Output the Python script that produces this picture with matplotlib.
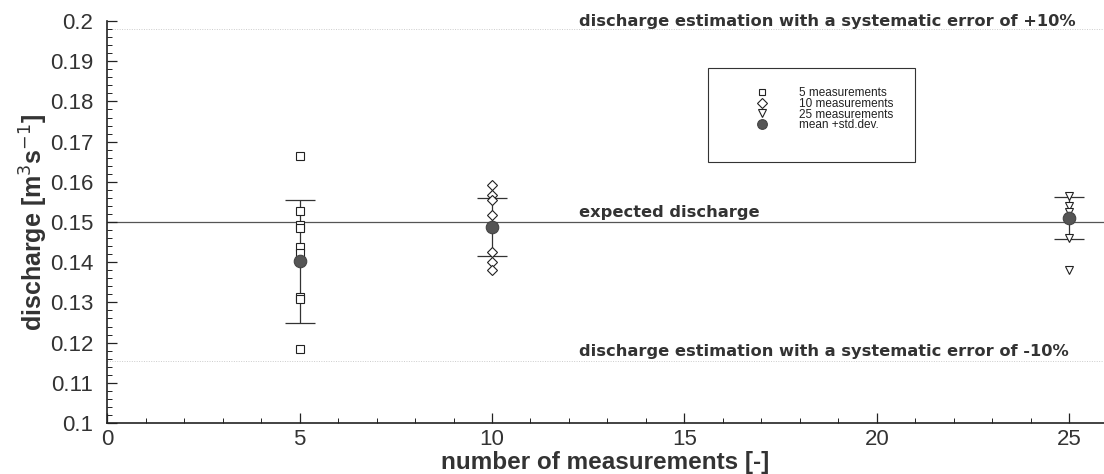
import matplotlib
matplotlib.use("Agg")
import matplotlib.pyplot as plt
from matplotlib.ticker import MultipleLocator
from matplotlib.patches import Rectangle

plt.rcParams['font.family'] = ['Liberation Sans', 'DejaVu Sans']

# data
x5 = 5
vals5 = [0.1664, 0.1527, 0.1493, 0.1485, 0.1438, 0.1423, 0.1313, 0.1308, 0.1184]
x10 = 10
vals10 = [0.1592, 0.1566, 0.1556, 0.1518, 0.1425, 0.1400, 0.1380]
x25 = 25
vals25 = [0.1565, 0.1540, 0.1525, 0.1510, 0.1460, 0.1380]
mean_x = [5, 10, 25]
mean_vals = [0.1402, 0.1488, 0.1510]
std_vals = [0.0153, 0.0072, 0.0053]
expected = 0.15
upper_err = 0.198
lower_err = 0.1155
ytick_vals = [0.1, 0.11, 0.12, 0.13, 0.14, 0.15, 0.16, 0.17, 0.18, 0.19, 0.2]
ytick_labels = ['0.1', '0.11', '0.12', '0.13', '0.14', '0.15', '0.16',
                '0.17', '0.18', '0.19', '0.2']

fig = plt.figure(figsize=(11.04, 4.74), dpi=100)
ax = fig.add_axes([0.097, 0.1076, 0.903, 0.848])

ax.axhline(expected, color='#555555', lw=0.9, zorder=1)
ax.axhline(upper_err, color='#cccccc', lw=0.7, ls=(0, (1, 1.5)), zorder=1)
ax.axhline(lower_err, color='#cccccc', lw=0.7, ls=(0, (1, 1.5)), zorder=1)

ax.errorbar(mean_x, mean_vals, yerr=std_vals, fmt='none', ecolor='#333333',
            elinewidth=0.9, capsize=10.5, capthick=0.9, zorder=2)

ax.plot([x5] * len(vals5), vals5, ls='none', marker='s', ms=5.5, mfc='white',
        mec='#222222', mew=0.8, zorder=3, label='5 measurements')
ax.plot([x10] * len(vals10), vals10, ls='none', marker='D', ms=5.5, mfc='white',
        mec='#222222', mew=0.8, zorder=3, label='10 measurements')
ax.plot([x25] * len(vals25), vals25, ls='none', marker='v', ms=6, mfc='white',
        mec='#222222', mew=0.8, zorder=3, label='25 measurements')
ax.plot(mean_x, mean_vals, ls='none', marker='o', ms=9, mfc='#555555',
        mec='#444444', mew=0.8, zorder=4, label='mean +std.dev.')

ax.set_xlim(0, 25.9)
ax.set_ylim(0.1, 0.2)
ax.xaxis.set_major_locator(MultipleLocator(5))
ax.xaxis.set_minor_locator(MultipleLocator(1))
ax.yaxis.set_minor_locator(MultipleLocator(0.002))
ax.set_yticks(ytick_vals)
ax.set_yticklabels(ytick_labels)
ax.tick_params(which='both', direction='in', colors='#222222', labelcolor='#333333',
               labelsize=16)
ax.tick_params(which='major', length=7, width=0.9)
ax.tick_params(which='minor', length=3.5, width=0.7)
ax.tick_params(axis='x', pad=4)
ax.tick_params(axis='y', pad=10)
for s in ['top', 'right']:
    ax.spines[s].set_visible(False)
for s in ['left', 'bottom']:
    ax.spines[s].set_color('#222222')
    ax.spines[s].set_linewidth(1.2)

ax.set_xlabel('number of measurements [-]', fontsize=17.5, fontweight='bold',
              color='#333333', labelpad=1)
ax.set_ylabel('discharge [m$^3$s$^{-1}$]', fontsize=18, fontweight='bold',
              color='#333333', labelpad=0)

txt_kw = dict(fontsize=11.7, fontweight='bold', color='#333333', va='baseline',
              family=['DejaVu Sans'])
ax.text(12.25, 0.1988, 'discharge estimation with a systematic error of +10%', **txt_kw)
ax.text(12.25, 0.1512, 'expected discharge', **txt_kw)
ax.text(12.25, 0.1167, 'discharge estimation with a systematic error of -10%', **txt_kw)

ax.add_patch(Rectangle((0.6028, 0.649), 0.2076, 0.234, transform=ax.transAxes,
                       fill=True, facecolor='white', edgecolor='#333333', lw=0.8,
                       zorder=5))
leg = ax.legend(loc='upper left', bbox_to_anchor=(0.647, 0.835), frameon=False,
                fontsize=8.5, borderpad=0.0, handletextpad=2.4, labelspacing=-0.12,
                borderaxespad=0, handlelength=1.6)
leg.set_zorder(6)
for t in leg.get_texts():
    t.set_color('#222222')
leg.legend_handles[0].set_markersize(5)
leg.legend_handles[1].set_markersize(5)
leg.legend_handles[2].set_markersize(5.5)
leg.legend_handles[3].set_markersize(7)

fig.savefig('out.png', dpi=100)
